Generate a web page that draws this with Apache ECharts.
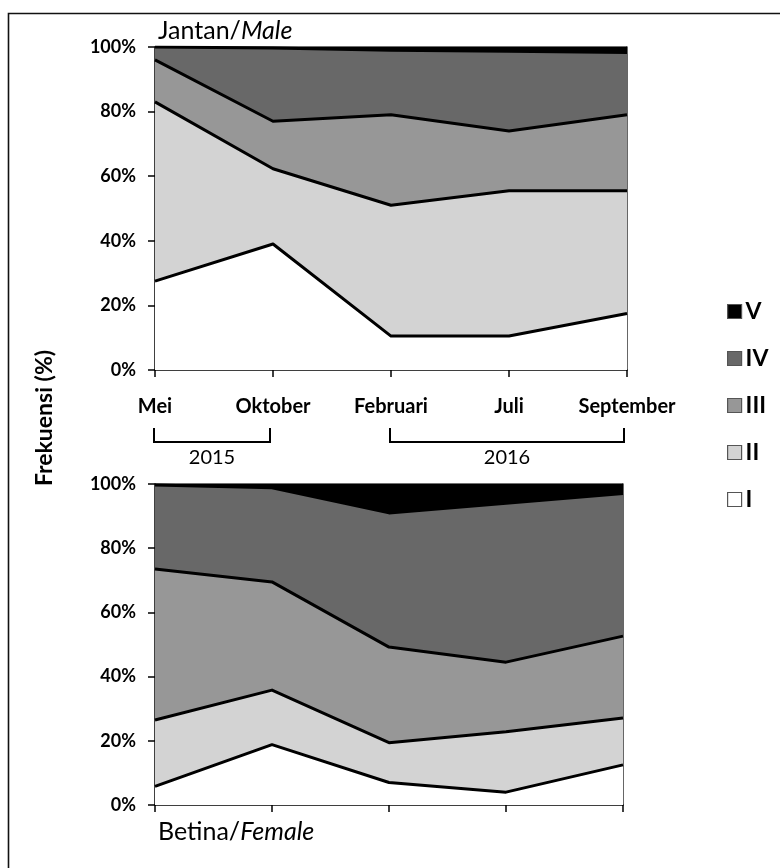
<!DOCTYPE html>
<html><head><meta charset="utf-8">
<script src="https://cdn.jsdelivr.net/npm/echarts@6/dist/echarts.min.js"></script>
<style>html,body{margin:0;padding:0;background:#fff}#c{width:780px;height:868px}</style>
</head><body><div id="c"></div>
<script>
// ---------- data ----------
const categories = ['Mei', 'Oktober', 'Februari', 'Juli', 'September'];
const stages = ['I', 'II', 'III', 'IV', 'V'];
const yearLabels = ['2015', '2016'];
const yearFirstCat = [0, 2];
const yearLastCat = [1, 4];

const maleI   = [27.5, 39.0, 10.5, 10.5, 17.5];
const maleII  = [55.5, 23.3, 40.5, 45.0, 38.0];
const maleIII = [13.0, 14.7, 28.0, 18.5, 23.5];
const maleIV  = [ 4.0, 22.7, 20.0, 24.7, 19.3];
const maleV   = [ 0.0,  0.3,  1.0,  1.3,  1.7];

const femaleI   = [ 5.8, 18.8,  7.0,  4.0, 12.5];
const femaleII  = [20.7, 17.0, 12.4, 18.8, 14.6];
const femaleIII = [47.0, 33.7, 29.8, 21.7, 25.5];
const femaleIV  = [26.2, 29.3, 41.8, 49.5, 44.4];
const femaleV   = [ 0.3,  1.2,  9.0,  6.0,  3.0];

const maleData = [maleI, maleII, maleIII, maleIV, maleV];
const femaleData = [femaleI, femaleII, femaleIII, femaleIV, femaleV];

// ---------- styles ----------
const fills = ['#ffffff', '#d3d3d3', '#979797', '#686868', '#000000'];
const lineWidths = [3, 3, 3, 3, 1.5];
const FONT = 'Lato';

function makeSeries(data, gi, stackName) {
  return data.map((vals, k) => ({
    name: stages[k],
    type: 'line',
    stack: stackName,
    xAxisIndex: gi,
    yAxisIndex: gi * 2,
    data: vals,
    symbol: 'none',
    smooth: false,
    z: 10 - k,
    color: fills[k],
    lineStyle: { color: '#000', width: lineWidths[k], join: 'round' },
    areaStyle: { color: fills[k], opacity: 1 },
    emphasis: { disabled: true },
    silent: true
  }));
}

function xAxisCfg(gi, showLabels) {
  return {
    type: 'category', gridIndex: gi, data: categories, boundaryGap: false,
    axisLine: { lineStyle: { color: '#000', width: 1.5 } },
    axisTick: { show: true, length: 7, lineStyle: { color: '#000', width: 1.5 } },
    axisLabel: {
      show: showLabels, margin: 27, interval: 0,
      fontFamily: FONT, fontWeight: 'bold', fontSize: 20, color: '#000'
    },
    splitLine: { show: false }
  };
}
function yAxisLeft(gi) {
  return {
    type: 'value', gridIndex: gi, min: 0, max: 100, interval: 20,
    axisLine: { show: true, lineStyle: { color: '#000', width: 1.5 } },
    axisTick: { show: true, length: 7, lineStyle: { color: '#000', width: 1.5 } },
    axisLabel: {
      formatter: '{value}%', margin: 19,
      fontFamily: FONT, fontWeight: 'bold', fontSize: 18, color: '#000'
    },
    splitLine: { show: false }
  };
}
function yAxisRight(gi) {
  return {
    type: 'value', gridIndex: gi, min: 0, max: 100, position: 'right',
    axisLine: { show: true, lineStyle: { color: '#333', width: 1.5 } },
    axisTick: { show: false }, axisLabel: { show: false },
    splitLine: { show: false }
  };
}

const option = {
  animation: false,
  backgroundColor: '#fff',
  grid: [
    { left: 155, top: 47, width: 472, height: 323 },
    { left: 155, top: 484, width: 468, height: 321 }
  ],
  xAxis: [xAxisCfg(0, true), xAxisCfg(1, false)],
  yAxis: [yAxisLeft(0), yAxisRight(0), yAxisLeft(1), yAxisRight(1)],
  legend: {
    orient: 'vertical', left: 727, top: 300, padding: 0,
    itemWidth: 14, itemHeight: 14, itemGap: 24,
    selectedMode: false,
    textStyle: { fontFamily: FONT, fontWeight: 'bold', fontSize: 23, lineHeight: 20, color: '#000', padding: [0, 0, 0, -1] },
    itemStyle: { borderColor: '#555', borderWidth: 1.2 },
    data: stages.slice().reverse().map(s => ({
      name: s, icon: 'rect',
      itemStyle: { color: fills[stages.indexOf(s)], borderColor: '#555', borderWidth: 1.2 }
    }))
  },
  series: [...makeSeries(maleData, 0, 'male'), ...makeSeries(femaleData, 1, 'female')]
};

const chart = echarts.init(document.getElementById('c'), null, { renderer: 'canvas' });
chart.setOption(option);

// ---------- annotations built from the axes ----------
const g0 = option.grid[0];
const axisY = g0.top + g0.height;
const elements = [
  { type: 'rect', shape: { x: 8.5, y: 13.5, width: 800, height: 900 },
    style: { fill: 'none', stroke: '#111', lineWidth: 1.6 }, silent: true },
  { type: 'text', x: 158, y: 31,
    style: { text: '{a|Jantan/}{b|Male}', verticalAlign: 'middle', rich: {
      a: { fontFamily: FONT, fontSize: 25, fill: '#000' },
      b: { fontFamily: FONT, fontSize: 25, fontStyle: 'italic', fill: '#000' } } } },
  { type: 'text', x: 158, y: 832,
    style: { text: '{a|Betina/}{b|Female}', verticalAlign: 'middle', rich: {
      a: { fontFamily: FONT, fontSize: 25, fill: '#000' },
      b: { fontFamily: FONT, fontSize: 25, fontStyle: 'italic', fill: '#000' } } } },
  { type: 'text', x: 45, y: 418, rotation: Math.PI / 2,
    style: { text: 'Frekuensi (%)', fontFamily: FONT, fontWeight: 'bold', fontSize: 23,
      fill: '#000', align: 'center', verticalAlign: 'middle' } }
];
yearLabels.forEach((lab, i) => {
  const x0 = chart.convertToPixel({ gridIndex: 0 }, [yearFirstCat[i], 0])[0] - 1;
  const x1 = chart.convertToPixel({ gridIndex: 0 }, [yearLastCat[i], 0])[0] - 3;
  const yt = axisY + 58, yb = axisY + 72;
  elements.push({ type: 'polyline', shape: { points: [[x0, yt], [x0, yb], [x1, yb], [x1, yt]] },
    style: { stroke: '#000', lineWidth: 2, fill: 'none' }, silent: true });
  elements.push({ type: 'text', x: (x0 + x1) / 2, y: yb + 16,
    style: { text: lab, fontFamily: FONT, fontSize: 20, fill: '#000', align: 'center', verticalAlign: 'middle' } });
});
chart.setOption({ graphic: { elements } });
</script>
</body></html>
